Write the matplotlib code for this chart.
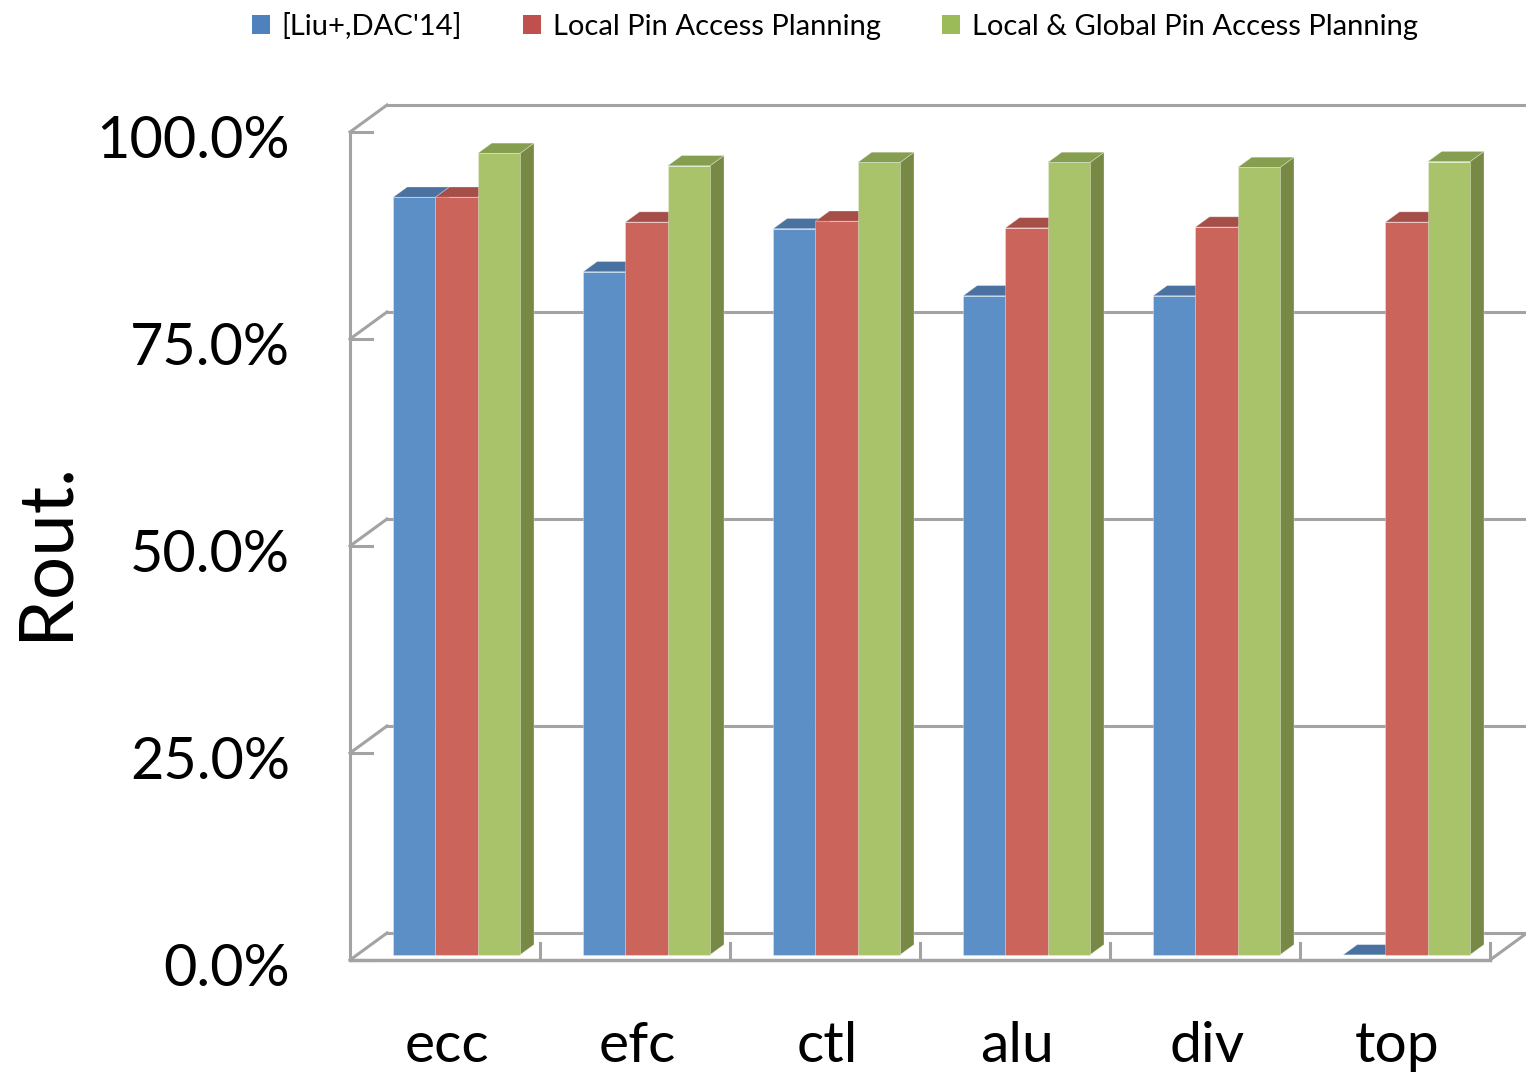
import matplotlib
matplotlib.use('Agg')
import matplotlib.pyplot as plt
from matplotlib.patches import Polygon, Patch

plt.rcParams['font.family'] = ['Lato', 'DejaVu Sans']

categories = ['ecc', 'efc', 'ctl', 'alu', 'div', 'top']
series_names = ["[Liu+,DAC'14]", 'Local Pin Access Planning',
                'Local & Global Pin Access Planning']
liu = [91.5, 82.5, 87.7, 79.6, 79.6, 0.0]
local = [91.5, 88.5, 88.6, 87.8, 87.9, 88.5]
local_global = [96.8, 95.3, 95.7, 95.7, 95.1, 95.8]
y_ticks = [0, 25, 50, 75, 100]

series = [liu, local, local_global]
legend_col = ['#4f81bd', '#c0504d', '#9bbb59']
front_col = ['#5b8fc5', '#cb655b', '#a9c36a']
top_col = ['#4a72a0', '#a64e48', '#869e50']
side_col = ['#3f6290', '#8e423c', '#788946']
wall = '#a3a3a3'

# pixel scale of the plot: 190 px per category, 8.28 px per percent
fig = plt.figure(figsize=(15.26, 10.78), dpi=100)
ax = fig.add_axes([0, 0, 1, 1])
ax.set_xlim(-350 / 190, 1176 / 190)
ax.set_ylim(-118 / 8.28, 960 / 8.28)
ax.axis('off')

# oblique depth of the box
DX, DY = 37 / 190, 27 / 8.28
n = len(categories)

# back wall gridlines + side wall diagonals + front ticks
for v in y_ticks:
    ax.plot([DX, n + DX], [v + DY, v + DY], color=wall, lw=2.2, zorder=1)
    ax.plot([0, DX], [v, v + DY], color=wall, lw=2.2, zorder=1)
    ax.plot([0, 0.116], [v, v], color=wall, lw=2.2, zorder=1)
    ax.text(-0.316, v - 1.2, f'{v:.1f}%', ha='right', va='center', fontsize=41.5)
ax.plot([0, 0], [0, 100], color=wall, lw=2.2, zorder=1)

# floor
ax.plot([0, n], [0, 0], color=wall, lw=2.5, zorder=1)
ax.plot([n, n + DX], [0, DY], color=wall, lw=2.2, zorder=1)
for i in range(1, n + 1):
    ax.plot([i, i], [0, 2.1], color=wall, lw=2.2, zorder=1)

# 3d bars
f0, f1 = 0.19, 0.57
w, start = 0.2225, 0.19
ox, oy = f0 * DX, f0 * DY
bx, by = (f1 - f0) * DX, (f1 - f0) * DY
z = 2
for i in range(n):
    for k, vals in enumerate(series):
        h = vals[i]
        xl = i + start + k * w + ox
        xr = xl + w
        yb, yt = oy, oy + h
        faces = [
            ([(xr, yb), (xr + bx, yb + by), (xr + bx, yt + by), (xr, yt)], side_col[k]),
            ([(xl, yb), (xr, yb), (xr, yt), (xl, yt)], front_col[k]),
            ([(xl, yt), (xr, yt), (xr + bx, yt + by), (xl + bx, yt + by)], top_col[k]),
        ]
        for pts, c in faces:
            ax.add_patch(Polygon(pts, closed=True, facecolor=c,
                                 edgecolor=(1, 1, 1, 0.35), lw=0.6, zorder=z))
        z += 1

for i, name in enumerate(categories):
    ax.text(i + 0.51, -12.3, name, ha='center', va='baseline', fontsize=41)

ax.text(-1.605, 49.5, 'Rout.', rotation=90, ha='center', va='center', fontsize=55)

handles = [Patch(facecolor=c) for c in legend_col]
fig.legend(handles, series_names, loc='upper center', ncol=3, frameon=False,
           fontsize=21, handlelength=0.62, handleheight=0.62, handletextpad=0.4,
           columnspacing=2.1, bbox_to_anchor=(0.547, 1.0), borderaxespad=0.05)

fig.savefig('out.png', dpi=100)
